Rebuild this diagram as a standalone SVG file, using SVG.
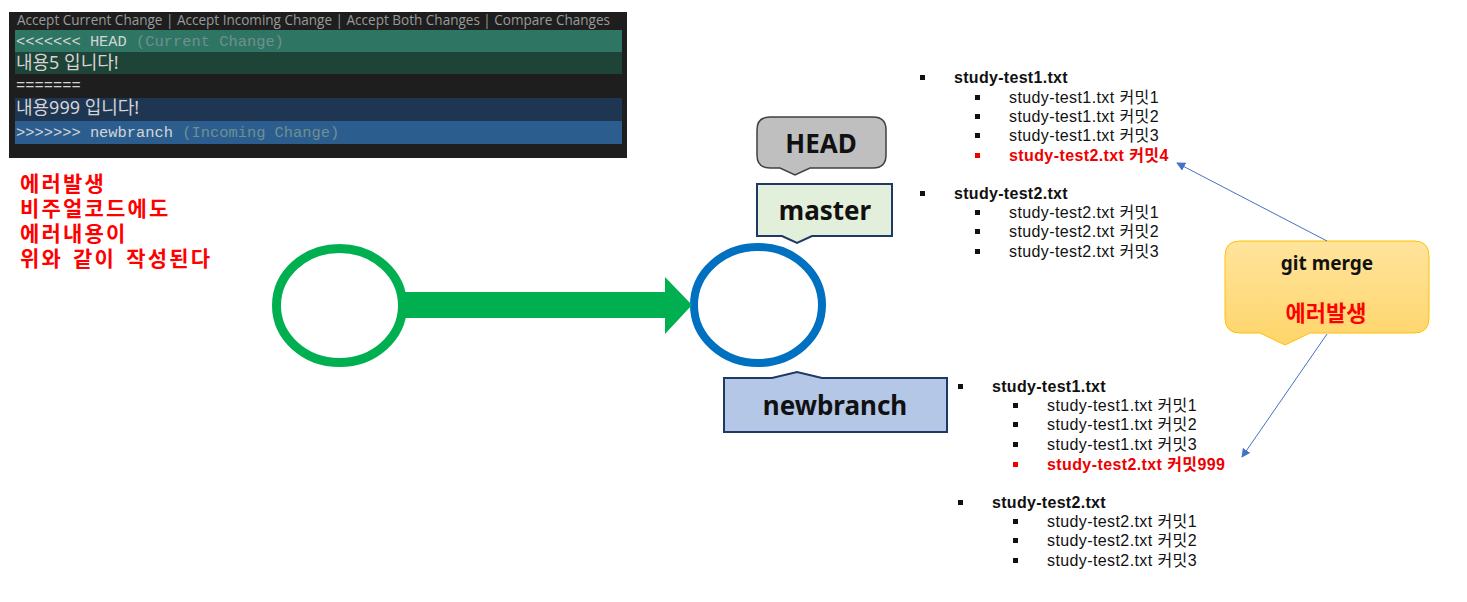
<svg xmlns="http://www.w3.org/2000/svg" width="1467" height="602" viewBox="0 0 1467 602">
<defs>
  <style>
    .mono{font-family:"Liberation Mono","DejaVu Sans Mono","Noto Sans CJK KR",monospace;font-size:15.4px;fill:#d4d4d4}
    .kr{font-family:"Noto Sans","Noto Sans CJK KR",sans-serif;font-size:18px;fill:#d4d4d4}
    .cmt{fill:#6f8f92}
    .ko{font-family:"Liberation Sans","Noto Sans CJK KR",sans-serif}
    .red{fill:#ff0000;font-weight:bold}
    .lab{font-family:"Noto Sans","Noto Sans CJK KR",sans-serif;font-weight:bold;font-size:26px;fill:#111;text-anchor:middle}
    .li{font-family:"Liberation Sans","Noto Sans CJK KR",sans-serif;font-size:16px;fill:#111;letter-spacing:0.4px}
    .b{font-weight:bold;letter-spacing:0.3px}
    .r{fill:#ee0000;font-weight:bold}
    .conn{stroke:#4472c4;stroke-width:1;fill:none}
  </style>
  <marker id="ah" viewBox="0 0 10 10" refX="9" refY="5" markerWidth="9" markerHeight="9" orient="auto" markerUnits="userSpaceOnUse">
    <path d="M0,0 L10,5 L0,10 z" fill="#4472c4"/>
  </marker>
  <linearGradient id="yg" x1="0" y1="0" x2="0" y2="1">
    <stop offset="0" stop-color="#ffe49c"/>
    <stop offset="1" stop-color="#ffd56a"/>
  </linearGradient>
</defs>
<rect width="1467" height="602" fill="#ffffff"/>

<g id="code">
  <rect x="9" y="12" width="618" height="146" fill="#1e1e1e"/>
  <text x="17" y="25" font-family="Open Sans, Noto Sans, sans-serif" font-size="14" fill="#9a9a9a" textLength="593" lengthAdjust="spacingAndGlyphs">Accept Current Change | Accept Incoming Change | Accept Both Changes | Compare Changes</text>
  <rect x="15" y="30" width="607" height="22" fill="#2f7563"/>
  <rect x="15" y="52" width="607" height="22" fill="#1e4337"/>
  <rect x="15" y="98" width="607" height="23" fill="#1e3652"/>
  <rect x="15" y="121" width="607" height="23" fill="#2b5e8e"/>
  <text class="mono" x="16" y="46">&lt;&lt;&lt;&lt;&lt;&lt;&lt; HEAD <tspan class="cmt">(Current Change)</tspan></text>
  <text class="kr" x="16" y="69">내용5 입니다!</text>
  <text class="mono" x="16" y="90">=======</text>
  <text class="kr" x="16" y="114">내용999 입니다!</text>
  <text class="mono" x="16" y="137">&gt;&gt;&gt;&gt;&gt;&gt;&gt; newbranch <tspan class="cmt">(Incoming Change)</tspan></text>
</g>

<g id="note" class="ko red" font-size="21" letter-spacing="2.2" word-spacing="2">
  <text x="20" y="191">에러발생</text>
  <text x="20" y="216">비주얼코드에도</text>
  <text x="20" y="241">에러내용이</text>
  <text x="20" y="266">위와 같이 작성된다</text>
</g>

<g id="commit1">
  <ellipse cx="339.5" cy="305.5" rx="63" ry="57" fill="none" stroke="#00b050" stroke-width="9"/>
</g>

<g id="commit2">
  <ellipse cx="758" cy="305" rx="64" ry="58" fill="none" stroke="#0070c0" stroke-width="8"/>
</g>

<g id="head">
  <path d="M770,117 H873 Q886,117 886,130 V155 Q886,168 873,168 H810 L795,175 L780,168 H770 Q757,168 757,155 V130 Q757,117 770,117 Z" fill="#bfbfbf" stroke="#404040" stroke-width="1.5"/>
  <text class="lab" x="821" y="153">HEAD</text>
</g>

<g id="master">
  <path d="M757,184 H892 V236 H812 L797,243 L782,236 H757 Z" fill="#e2efda" stroke="#203864" stroke-width="2"/>
  <text class="lab" x="825" y="220">master</text>
</g>

<g id="newbranch">
  <path d="M724,378 H772 L797,372 L822,378 H947 V432 H724 Z" fill="#b4c7e7" stroke="#203864" stroke-width="2"/>
  <text class="lab" x="835" y="415">newbranch</text>
</g>

<g id="gitmerge">
  <path d="M1240,241 H1414 Q1429,241 1429,256 V318 Q1429,333 1414,333 H1310 L1285,345 L1260,333 H1240 Q1225,333 1225,318 V256 Q1225,241 1240,241 Z" fill="url(#yg)" stroke="#ffc000" stroke-width="1"/>
  <text x="1327" y="270" text-anchor="middle" font-family="Noto Sans, Noto Sans CJK KR, sans-serif" font-weight="bold" font-size="19" fill="#111">git merge</text>
  <text x="1326" y="321" text-anchor="middle" font-family="Noto Sans, Noto Sans CJK KR, sans-serif" font-weight="bold" font-size="22" fill="#ff0000">에러발생</text>
</g>

<g id="list-master">
  <rect x="920" y="75" width="5" height="5" fill="#111"/>
  <text class="li b" x="954" y="83">study-test1.txt</text>
  <rect x="975" y="95" width="5" height="5" fill="#111"/>
  <text class="li" x="1009" y="103">study-test1.txt 커밋1</text>
  <rect x="975" y="114" width="5" height="5" fill="#111"/>
  <text class="li" x="1009" y="122">study-test1.txt 커밋2</text>
  <rect x="975" y="133" width="5" height="5" fill="#111"/>
  <text class="li" x="1009" y="141">study-test1.txt 커밋3</text>
  <rect x="975" y="153" width="5" height="5" fill="#ee0000"/>
  <text class="li r" x="1009" y="161">study-test2.txt 커밋4</text>
  <rect x="920" y="191" width="5" height="5" fill="#111"/>
  <text class="li b" x="954" y="199">study-test2.txt</text>
  <rect x="975" y="210" width="5" height="5" fill="#111"/>
  <text class="li" x="1009" y="218">study-test2.txt 커밋1</text>
  <rect x="975" y="229" width="5" height="5" fill="#111"/>
  <text class="li" x="1009" y="237">study-test2.txt 커밋2</text>
  <rect x="975" y="249" width="5" height="5" fill="#111"/>
  <text class="li" x="1009" y="257">study-test2.txt 커밋3</text>
</g>

<g id="list-newbranch">
  <rect x="958" y="384" width="5" height="5" fill="#111"/>
  <text class="li b" x="992" y="392">study-test1.txt</text>
  <rect x="1013" y="403" width="5" height="5" fill="#111"/>
  <text class="li" x="1047" y="411">study-test1.txt 커밋1</text>
  <rect x="1013" y="422" width="5" height="5" fill="#111"/>
  <text class="li" x="1047" y="430">study-test1.txt 커밋2</text>
  <rect x="1013" y="442" width="5" height="5" fill="#111"/>
  <text class="li" x="1047" y="450">study-test1.txt 커밋3</text>
  <rect x="1013" y="462" width="5" height="5" fill="#ee0000"/>
  <text class="li r" x="1047" y="470">study-test2.txt 커밋999</text>
  <rect x="958" y="500" width="5" height="5" fill="#111"/>
  <text class="li b" x="992" y="508">study-test2.txt</text>
  <rect x="1013" y="519" width="5" height="5" fill="#111"/>
  <text class="li" x="1047" y="527">study-test2.txt 커밋1</text>
  <rect x="1013" y="538" width="5" height="5" fill="#111"/>
  <text class="li" x="1047" y="546">study-test2.txt 커밋2</text>
  <rect x="1013" y="558" width="5" height="5" fill="#111"/>
  <text class="li" x="1047" y="566">study-test2.txt 커밋3</text>
</g>

<g id="connectors">
  <path d="M400,292 H665 V277 L692,305 L665,334 V318 H400 Z" fill="#00b050"/>
  <line class="conn" x1="1327" y1="241" x2="1177" y2="163" marker-end="url(#ah)"/>
  <line class="conn" x1="1327" y1="334" x2="1242" y2="457" marker-end="url(#ah)"/>
</g>
</svg>
